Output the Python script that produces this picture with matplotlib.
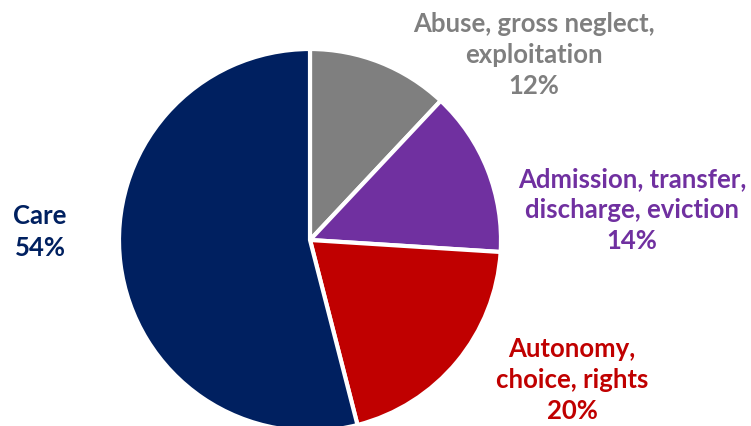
import matplotlib
matplotlib.use("Agg")
import matplotlib.pyplot as plt

categories = ["Abuse, gross neglect,\nexploitation", "Admission, transfer,\ndischarge, eviction",
              "Autonomy,\nchoice, rights", "Care"]
values = [12, 14, 20, 54]
colors = ["#7F7F7F", "#7030A0", "#C00000", "#002060"]

fig = plt.figure(figsize=(7.51, 4.27), dpi=100)
ax = fig.add_axes([0, 0, 1, 1])
ax.set_xlim(0, 751)
ax.set_ylim(0, 427)
ax.set_aspect("equal")
ax.axis("off")

ax.pie(values, colors=colors, startangle=90, counterclock=False,
       center=(310, 427 - 241), radius=191,
       wedgeprops=dict(edgecolor="white", linewidth=3))
ax.set_xlim(0, 751)
ax.set_ylim(0, 427)

label_pos = [(534, 55), (632, 210), (572, 380), (40, 232)]
fp = dict(family=["Lato", "DejaVu Sans"], weight="bold", fontsize=18.5)
for cat, v, c, (x, y) in zip(categories, values, colors, label_pos):
    ax.text(x, 427 - y, f"{cat}\n{v}%", color=c, ha="center", va="center",
            linespacing=1.36, **fp)

fig.savefig("out.png", dpi=100)
